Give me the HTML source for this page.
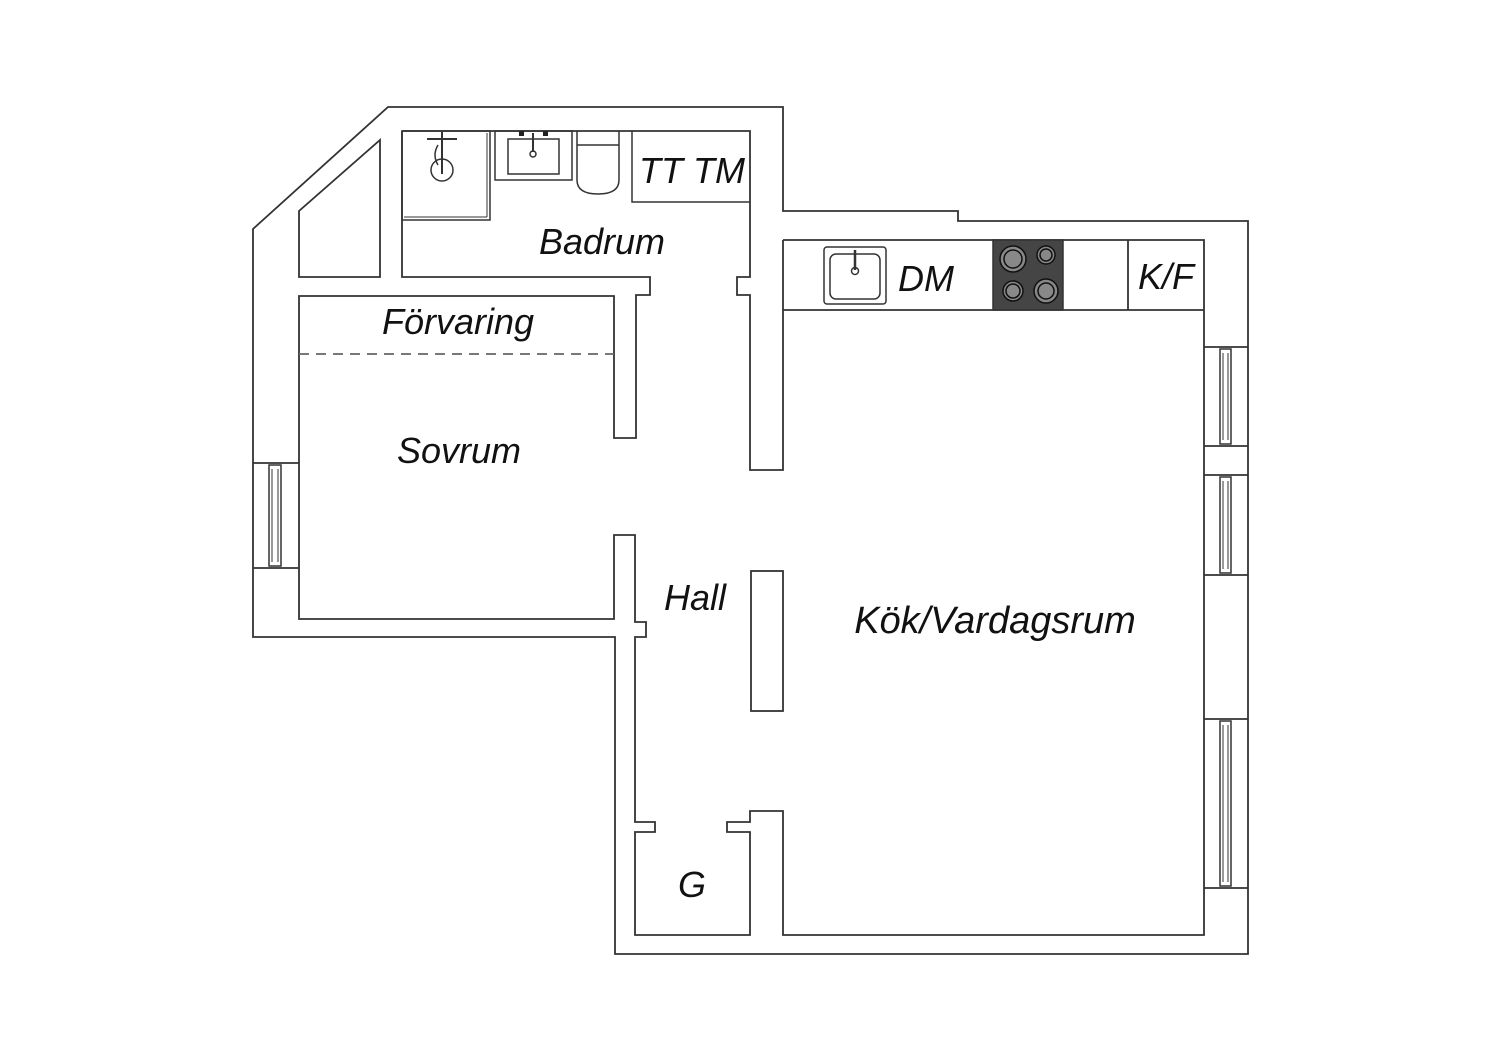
<!DOCTYPE html>
<html><head><meta charset="utf-8"><style>
html,body{margin:0;padding:0;background:#fff;}
svg{display:block;}
text{font-family:"Liberation Sans",sans-serif;font-style:italic;font-weight:normal;fill:#111;}
</style></head><body>
<svg width="1500" height="1060" viewBox="0 0 1500 1060" xmlns="http://www.w3.org/2000/svg">
<g fill="none" stroke="#333" stroke-width="1.8">
<polygon points="388,107 783,107 783,211 958,211 958,221 1248,221 1248,954 615,954 615,637 253,637 253,229"/>
<polygon points="299,277 380,277 380,140 299,211"/>
<polyline points="402,131 750,131 750,277 737,277 737,295 750,295 750,470 783,470 783,240"/>
<polyline points="402,131 402,277 650,277 650,295 636,295 636,438 614,438 614,296 299,296 299,619 614,619 614,535 635,535 635,622 646,622 646,637 635,637 635,822 655,822 655,832 635,832 635,935 750,935 750,832 727,832 727,822 750,822 750,811 783,811 783,935 1204,935 1204,240 783,240"/>
<rect x="751" y="571" width="32" height="140"/>
<line x1="253" y1="463" x2="299" y2="463"/>
<line x1="253" y1="568" x2="299" y2="568"/>
<rect x="269" y="465" width="12" height="101" stroke-width="1.5"/>
<line x1="272" y1="469" x2="272" y2="562" stroke-width="1"/>
<line x1="278" y1="469" x2="278" y2="562" stroke-width="1"/>
<g>
<line x1="1204" y1="347" x2="1248" y2="347"/><line x1="1204" y1="446" x2="1248" y2="446"/>
<rect x="1220" y="349" width="11" height="95" stroke-width="1.5"/>
<line x1="1223" y1="353" x2="1223" y2="440" stroke-width="1"/><line x1="1228" y1="353" x2="1228" y2="440" stroke-width="1"/>
<line x1="1204" y1="475" x2="1248" y2="475"/><line x1="1204" y1="575" x2="1248" y2="575"/>
<rect x="1220" y="477" width="11" height="96" stroke-width="1.5"/>
<line x1="1223" y1="481" x2="1223" y2="569" stroke-width="1"/><line x1="1228" y1="481" x2="1228" y2="569" stroke-width="1"/>
<line x1="1204" y1="719" x2="1248" y2="719"/><line x1="1204" y1="888" x2="1248" y2="888"/>
<rect x="1220" y="721" width="11" height="165" stroke-width="1.5"/>
<line x1="1223" y1="725" x2="1223" y2="882" stroke-width="1"/><line x1="1228" y1="725" x2="1228" y2="882" stroke-width="1"/>
</g>
<line x1="299" y1="354" x2="614" y2="354" stroke="#666" stroke-dasharray="10,7"/>
<line x1="783" y1="310" x2="1204" y2="310"/>
<line x1="1128" y1="240" x2="1128" y2="310"/>
<rect x="824" y="247" width="62" height="57" rx="3" stroke-width="1.5"/>
<rect x="830" y="254" width="50" height="45" rx="6" stroke-width="1.5"/>
<line x1="855" y1="250" x2="855" y2="270" stroke-width="2.5"/>
<circle cx="855" cy="271" r="3.5" stroke-width="1.5"/>
<rect x="402" y="131" width="88" height="89" stroke-width="1.5"/>
<line x1="404" y1="217" x2="487" y2="217" stroke-width="1"/>
<line x1="487" y1="133" x2="487" y2="217" stroke-width="1"/>
<circle cx="442" cy="170" r="11" stroke-width="1.5"/>
<line x1="442" y1="132" x2="442" y2="174" stroke-width="2"/>
<line x1="427" y1="139" x2="457" y2="139" stroke-width="2"/>
<path d="M438,145 q-6,10 0,20" stroke-width="1.5"/>
<rect x="495" y="131" width="77" height="49" stroke-width="1.5"/>
<rect x="508" y="139" width="51" height="35" stroke-width="1.5"/>
<line x1="533" y1="133" x2="533" y2="152" stroke-width="2"/>
<circle cx="533" cy="154" r="3" stroke-width="1.5"/>
<path d="M577,131 L577,180 q0,14 21,14 q21,0 21,-14 L619,131" stroke-width="1.5"/>
<line x1="577" y1="145" x2="619" y2="145" stroke-width="1.5"/>
<polyline points="632,131 632,202 750,202" stroke-width="1.5"/>
</g>
<rect x="993" y="240" width="70" height="70" fill="#454545" stroke="#333" stroke-width="1.5"/>
<g stroke="#111" stroke-width="1.5" fill="#888">
<circle cx="1013" cy="259" r="13"/><circle cx="1013" cy="259" r="9"/>
<circle cx="1046" cy="255" r="9"/><circle cx="1046" cy="255" r="6"/>
<circle cx="1013" cy="291" r="10"/><circle cx="1013" cy="291" r="7"/>
<circle cx="1046" cy="291" r="12"/><circle cx="1046" cy="291" r="8"/>
</g>
<rect x="519" y="131" width="5" height="5" fill="#222"/><rect x="543" y="131" width="5" height="5" fill="#222"/>
<g font-size="36">
<text x="602" y="254" text-anchor="middle">Badrum</text>
<text x="692" y="183" text-anchor="middle">TT TM</text>
<text x="458" y="334" text-anchor="middle">Förvaring</text>
<text x="459" y="463" text-anchor="middle">Sovrum</text>
<text x="695" y="610" text-anchor="middle">Hall</text>
<text x="995" y="633" text-anchor="middle" font-size="38">Kök/Vardagsrum</text>
<text x="926" y="291" text-anchor="middle">DM</text>
<text x="1166" y="289" text-anchor="middle">K/F</text>
<text x="692" y="897" text-anchor="middle">G</text>
</g>
</svg>
</body></html>
